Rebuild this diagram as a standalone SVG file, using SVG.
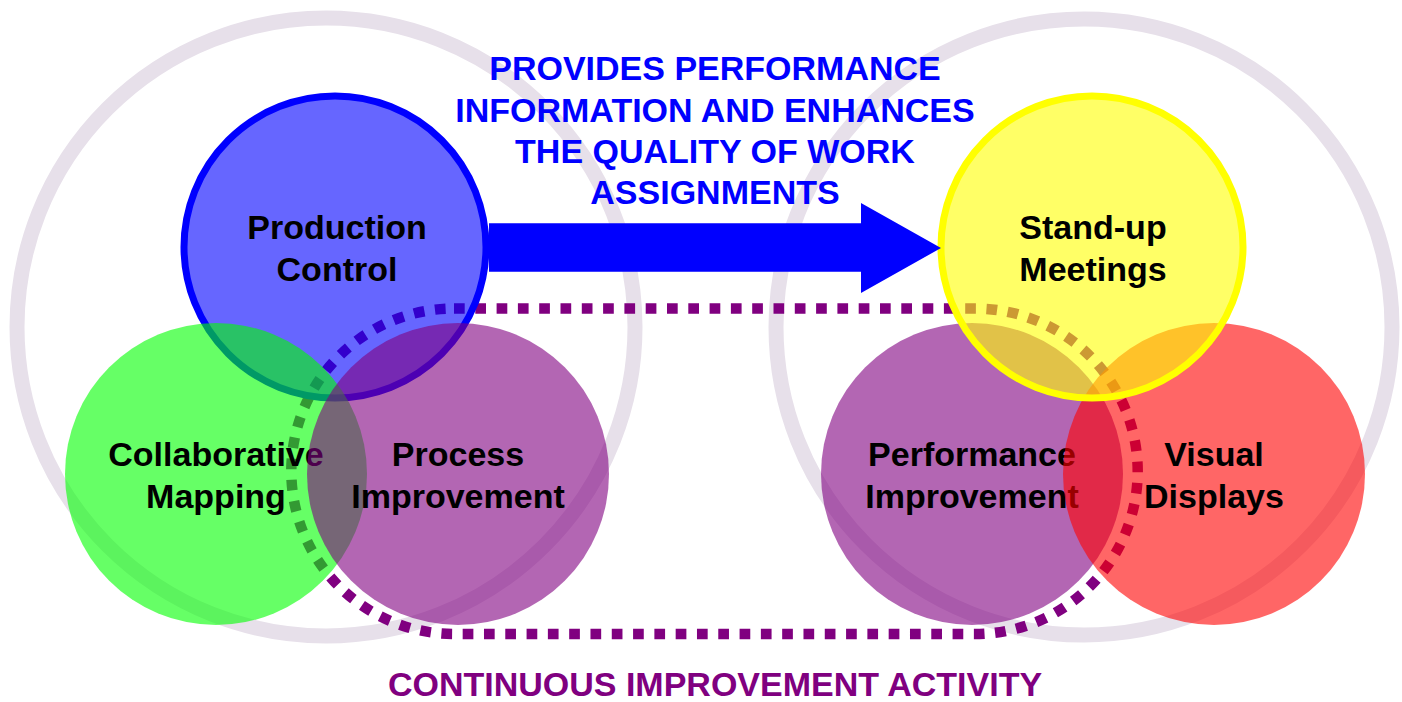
<svg xmlns="http://www.w3.org/2000/svg" width="1402" height="702" viewBox="0 0 1402 702">
<style>
.ring{fill:none;stroke:#e7e0ea;stroke-width:15}
.lbl{font-family:"Liberation Sans",Arial,sans-serif;font-weight:bold;font-size:34px;text-anchor:middle;fill:#000}
.head{font-family:"Liberation Sans",Arial,sans-serif;font-weight:bold;font-size:34px;text-anchor:middle}
.c{fill-opacity:0.6}
</style>
<rect width="1402" height="702" fill="#ffffff"/>
<g id="rings">
<circle class="ring" cx="326" cy="327" r="309"/>
<circle class="ring" cx="1084" cy="327" r="308"/>
</g>
<g id="ci-loop">
<path d="M454 308.5 H975 A162.75 162.75 0 0 1 975 634 H454 A162.75 162.75 0 0 1 454 308.5 Z" fill="none" stroke="#800080" stroke-width="10.5" stroke-dasharray="10.7 10.6"/>
</g>
<g id="production-control">
<circle class="c" cx="335" cy="247" r="151" fill="#0000ff" stroke="#0000ff" stroke-width="7" stroke-opacity="1"/>
<text class="lbl" x="337" y="239">Production</text>
<text class="lbl" x="337" y="281">Control</text>
</g>
<g id="collaborative-mapping">
<circle class="c" cx="216" cy="474" r="151" fill="#00ff00"/>
<text class="lbl" x="216" y="466">Collaborative</text>
<text class="lbl" x="216" y="508">Mapping</text>
</g>
<g id="process-improvement">
<circle class="c" cx="458" cy="474" r="151" fill="#800080"/>
<text class="lbl" x="458" y="466">Process</text>
<text class="lbl" x="458" y="508">Improvement</text>
</g>
<g id="performance-improvement">
<circle class="c" cx="972" cy="474" r="151" fill="#800080"/>
<text class="lbl" x="972" y="466">Performance</text>
<text class="lbl" x="972" y="508">Improvement</text>
</g>
<g id="visual-displays">
<circle class="c" cx="1214" cy="474" r="151" fill="#ff0000"/>
<text class="lbl" x="1214" y="466">Visual</text>
<text class="lbl" x="1214" y="508">Displays</text>
</g>
<g id="stand-up-meetings">
<circle class="c" cx="1092" cy="247" r="151" fill="#ffff00" stroke="#ffff00" stroke-width="7" stroke-opacity="1"/>
<text class="lbl" x="1093" y="239">Stand-up</text>
<text class="lbl" x="1093" y="281">Meetings</text>
</g>
<g id="connectors">
<polygon points="489,223.3 861,223.3 861,203 941,248 861,293 861,271.7 489,271.7" fill="#0000ff"/>
</g>
<g id="arrow-label" class="head" fill="#0000ff">
<text x="715" y="80">PROVIDES PERFORMANCE</text>
<text x="715" y="121.5">INFORMATION AND ENHANCES</text>
<text x="715" y="162.5">THE QUALITY OF WORK</text>
<text x="715" y="203.5">ASSIGNMENTS</text>
</g>
<g id="loop-label">
<text class="head" x="715" y="695.5" fill="#800080">CONTINUOUS IMPROVEMENT ACTIVITY</text>
</g>
</svg>
